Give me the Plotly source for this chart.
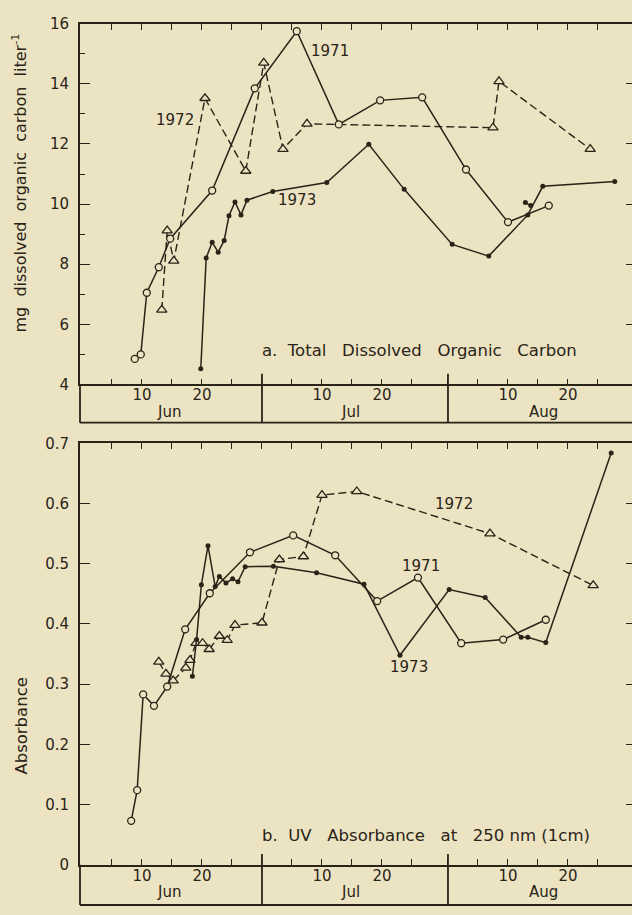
import plotly.graph_objects as go

W, H = 632, 915
BG = "#EBE3C1"
INK = "#2a2318"
FONT = "DejaVu Sans"

# x values are day counts from 31 May: Jun 30 = 30, Jul 31 = 61, Aug 31 = 92
# a. total dissolved organic carbon (mg/l)
doc71_day = [8.8, 9.8, 10.8, 12.8, 14.7, 21.7, 28.8, 35.8, 42.8, 49.7, 56.7, 64.0, 71.0, 77.8]
doc71_val = [4.85, 5.0, 7.05, 7.9, 8.85, 10.45, 13.85, 15.75, 12.65, 13.45, 13.55, 11.15, 9.4, 9.95]

doc72_day = [13.3, 14.2, 15.3, 20.5, 27.3, 30.3, 33.5, 37.5, 68.5, 69.5, 84.7]
doc72_val = [6.48, 9.12, 8.11, 13.52, 11.1, 14.7, 11.83, 12.67, 12.54, 14.08, 11.83]

doc73_day = [19.8, 20.7, 21.7, 22.7, 23.7, 24.5, 25.5, 26.5, 27.5, 31.8, 40.8, 47.8,
             53.7, 61.7, 67.8, 74.3, 76.8, 88.8]
doc73_val = [4.52, 8.21, 8.73, 8.40, 8.79, 9.61, 10.07, 9.64, 10.13, 10.42, 10.72, 11.99,
             10.49, 8.66, 8.27, 9.64, 10.59, 10.75]

doc73_extra_day = [73.9, 74.8]
doc73_extra_val = [10.05, 9.95]

# b. UV absorbance at 250 nm (1 cm)
uv71_day = [8.2, 9.2, 10.2, 12.0, 14.2, 17.2, 21.3, 28.0, 35.2, 42.2, 49.2, 56.0, 63.2, 70.2, 77.3]
uv71_val = [0.073, 0.124, 0.283, 0.264, 0.296, 0.391, 0.451, 0.519, 0.547, 0.514, 0.438,
            0.477, 0.368, 0.374, 0.407]

uv72_day = [12.8, 14.0, 15.2, 17.3, 18.0, 19.0, 20.1, 21.2, 22.9, 24.2, 25.5, 30.0, 32.9,
            36.9, 40.0, 45.8, 68.0, 85.2]
uv72_val = [0.337, 0.317, 0.306, 0.327, 0.340, 0.368, 0.368, 0.358, 0.380, 0.373, 0.398,
            0.402, 0.507, 0.512, 0.614, 0.620, 0.550, 0.464]

uv73_day = [18.4, 19.1, 19.9, 21.0, 22.2, 22.9, 24.0, 25.1, 26.0, 27.2, 31.9, 39.1, 47.0,
            53.0, 61.2, 67.2, 73.2, 74.3, 77.3, 88.2]
uv73_val = [0.313, 0.374, 0.465, 0.530, 0.462, 0.479, 0.468, 0.475, 0.470, 0.495, 0.496,
            0.485, 0.466, 0.348, 0.457, 0.444, 0.378, 0.378, 0.369, 0.684]

# axis ticks every 5 days, month ends at 30 and 61
tick_days = [5, 10, 15, 20, 25, 30, 35, 40, 45, 50, 55, 61, 66, 71, 76, 81, 86]
tick_text = [" ", "10", " ", "20", " ", " ", " ", "10", " ", "20", " ", " ", " ", "10", " ", "20", " "]
month_ends = [30, 61]
month_names = ["Jun", "Jul", "Aug"]
month_label_days = [14.5, 44.8, 77.0]

X_RANGE = [-0.33, 91.67]
X_DOM = [80 / W, 1.0]


def py(p):
    """pixel row -> paper fraction"""
    return 1 - p / H


TOP = (15, 383, 422)      # plot top, x axis, label-box bottom (pixels)
BOT = (443, 873, 914)

style71 = dict(mode="lines+markers", line=dict(color=INK, width=1.5),
               marker=dict(symbol="circle", size=7, color=BG, line=dict(color=INK, width=1.3)))
style72 = dict(mode="lines+markers", line=dict(color=INK, width=1.4, dash="8px,4px"),
               marker=dict(symbol="triangle-up", size=9, color=BG, line=dict(color=INK, width=1.3)))
style73 = dict(mode="lines+markers", line=dict(color=INK, width=1.5),
               marker=dict(symbol="circle", size=5, color=INK))

fig = go.Figure()
for ax, ay, series in [
    ("x", "y", [(doc72_day, doc72_val, style72), (doc71_day, doc71_val, style71),
                (doc73_day, doc73_val, style73), (doc73_extra_day, doc73_extra_val, style73)]),
    ("x2", "y2", [(uv72_day, uv72_val, style72), (uv71_day, uv71_val, style71),
                  (uv73_day, uv73_val, style73)]),
]:
    for xs, ys, st in series:
        fig.add_trace(go.Scatter(x=xs, y=ys, xaxis=ax, yaxis=ay, showlegend=False,
                                 hoverinfo="skip", cliponaxis=False, **st))

# empty traces so the right-hand tick axes get drawn
fig.add_trace(go.Scatter(x=[None], y=[None], xaxis="x", yaxis="y3", showlegend=False))
fig.add_trace(go.Scatter(x=[None], y=[None], xaxis="x2", yaxis="y4", showlegend=False))

tickfont = dict(family=FONT, size=15, color=INK)
xcommon = dict(range=X_RANGE, domain=X_DOM, showgrid=False, zeroline=False, showline=True,
               linecolor=INK, linewidth=1.8, mirror="ticks", ticks="inside", ticklen=6,
               tickwidth=1.4, tickcolor=INK, tickvals=tick_days, ticktext=tick_text,
               tickfont=tickfont, ticklabelstandoff=-4)
ycommon = dict(showgrid=False, zeroline=False, showline=True, linecolor=INK, linewidth=1.8,
               ticks="inside", ticklen=10, tickwidth=1.4, tickcolor=INK, tickfont=tickfont,
               ticklabelstandoff=6)
yright = dict(showgrid=False, zeroline=False, showline=False, side="right", ticks="inside",
              ticklen=6, tickwidth=1.4, tickcolor=INK, showticklabels=False)

fig.update_layout(
    width=W, height=H, autosize=False,
    margin=dict(l=0, r=0, t=0, b=0),
    paper_bgcolor=BG, plot_bgcolor=BG,
    xaxis=dict(anchor="y", **xcommon),
    xaxis2=dict(anchor="y2", **xcommon),
    yaxis=dict(anchor="x", domain=[py(TOP[1]), py(TOP[0])], range=[4, 16], tick0=4, dtick=2,
               minor=dict(ticks="inside", ticklen=5, tickwidth=1.2, tickcolor=INK, dtick=1),
               **ycommon),
    yaxis2=dict(anchor="x2", domain=[py(BOT[1]), py(BOT[0])], range=[0, 0.7], tick0=0,
                dtick=0.1, **ycommon),
    yaxis3=dict(overlaying="y", anchor="x", range=[4, 16], tick0=4, dtick=2, **yright),
    yaxis4=dict(overlaying="y2", anchor="x2", range=[0, 0.7], tick0=0, dtick=0.1, **yright),
)

shapes = []
annotations = []
for xref, (ptop, paxis, pbox) in [("x", TOP), ("x2", BOT)]:
    # label box under the axis
    shapes.append(dict(type="line", xref="paper", yref="paper", x0=X_DOM[0], x1=1,
                       y0=py(pbox), y1=py(pbox), line=dict(color=INK, width=1.8)))
    shapes.append(dict(type="line", xref="paper", yref="paper", x0=X_DOM[0], x1=X_DOM[0],
                       y0=py(paxis), y1=py(pbox), line=dict(color=INK, width=1.8)))
    for d in month_ends:
        shapes.append(dict(type="line", xref=xref, yref="paper", x0=d, x1=d,
                           y0=py(paxis - 11), y1=py(pbox), line=dict(color=INK, width=1.8)))
    for name, d in zip(month_names, month_label_days):
        annotations.append(dict(text=name, xref=xref, yref="paper", x=d, y=py(paxis + 28),
                                showarrow=False, font=dict(family=FONT, size=15, color=INK),
                                xanchor="center", yanchor="middle"))

lab = dict(family=FONT, size=15, color=INK)
year_labels = [
    ("1971", "x", "y", 41.3, 15.09),
    ("1972", "x", "y", 15.5, 12.8),
    ("1973", "x", "y", 35.8, 10.13),
    ("1972", "x2", "y2", 62.0, 0.599),
    ("1971", "x2", "y2", 56.5, 0.497),
    ("1973", "x2", "y2", 54.5, 0.329),
]
for t, xr, yr, x, y in year_labels:
    annotations.append(dict(text=t, xref=xr, yref=yr, x=x, y=y, showarrow=False, font=lab,
                            xanchor="center", yanchor="middle"))

NB = "\u00a0"
GAP = NB * 3
cap = dict(family=FONT, size=16.5, color=INK)
annotations.append(dict(text=f"a.{NB}{NB}Total{GAP}Dissolved{GAP}Organic{GAP}Carbon",
                        xref="x", yref="y", x=29.7, y=5.14, showarrow=False, font=cap,
                        xanchor="left", yanchor="middle"))
annotations.append(dict(text=f"b.{NB}{NB}UV{GAP}Absorbance{GAP}at{GAP}250{NB}nm{NB}(1cm)",
                        xref="x2", yref="y2", x=29.7, y=0.049, showarrow=False, font=cap,
                        xanchor="left", yanchor="middle"))

annotations.append(dict(text=f"mg{NB}{NB}dissolved{NB}{NB}organic{NB}{NB}carbon{NB}{NB}liter<sup>-1</sup>",
                        xref="paper", yref="paper", x=20 / W, y=py(178), textangle=-90,
                        showarrow=False, font=dict(family=FONT, size=16, color=INK),
                        xanchor="center", yanchor="middle"))
annotations.append(dict(text="Absorbance", xref="paper", yref="paper", x=22 / W, y=py(731),
                        textangle=-90, showarrow=False,
                        font=dict(family=FONT, size=16.5, color=INK),
                        xanchor="center", yanchor="middle"))

fig.update_layout(shapes=shapes, annotations=annotations)
fig.write_html("out.html")
